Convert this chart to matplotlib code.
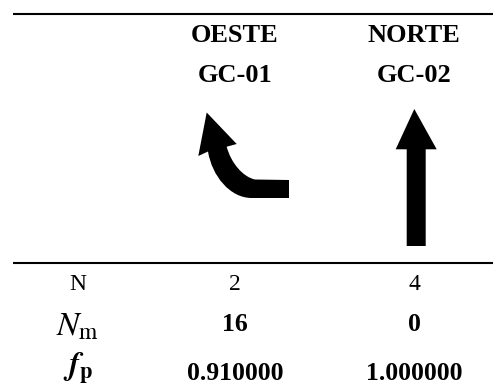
import matplotlib
matplotlib.use('Agg')
import matplotlib.pyplot as plt
from matplotlib.patches import Polygon, PathPatch
from matplotlib.path import Path

# table contents
directions = ['OESTE', 'NORTE']
groups = ['GC-01', 'GC-02']
row_labels = ['N', r'$N_{\mathrm{m}}$', r'$\mathbfit{f}_{\mathbf{p}}$']
n_values = ['2', '4']
nm_values = ['16', '0']
fp_values = ['0.910000', '1.000000']

plt.rcParams['font.family'] = ['Liberation Serif', 'DejaVu Serif']
plt.rcParams['mathtext.fontset'] = 'stix'

fig = plt.figure(figsize=(4.93, 3.88), dpi=100)
ax = fig.add_axes([0, 0, 1, 1])
ax.set_xlim(0, 493)
ax.set_ylim(388, 0)
ax.axis('off')

col_x = [235, 414]

# rules
ax.plot([13, 493], [14, 14], color='black', lw=1.5, solid_capstyle='butt')
ax.plot([13, 493], [263, 263], color='black', lw=1.5, solid_capstyle='butt')

# header
for x, d, g in zip(col_x, directions, groups):
    ax.text(x, 36, d, ha='center', va='center', fontsize=19, fontweight='bold')
    ax.text(x, 75.5, g, ha='center', va='center', fontsize=19, fontweight='bold')

# arrow signs
turn = Path(
    [(206.7, 112.5), (198.3, 156), (208, 151.5),
     (212, 176), (230, 198), (251.7, 198),
     (289, 198), (289, 180), (255, 179.5),
     (243, 177), (231, 163), (226.7, 146.7),
     (236.7, 144), (206.7, 112.5)],
    [Path.MOVETO, Path.LINETO, Path.LINETO,
     Path.CURVE4, Path.CURVE4, Path.CURVE4,
     Path.LINETO, Path.LINETO, Path.LINETO,
     Path.CURVE4, Path.CURVE4, Path.CURVE4,
     Path.LINETO, Path.CLOSEPOLY])
ax.add_patch(PathPatch(turn, fc='black', ec='none'))
ax.add_patch(Polygon([(414.3, 109), (436.7, 149.3), (425.7, 149.3), (425.7, 246),
                      (406.7, 246), (406.7, 149.3), (395.7, 149.3)],
                     closed=True, fc='black', ec='none'))

# rows
ax.text(78, 284.5, row_labels[0], ha='center', va='center', fontsize=17)
ax.text(78, 327, row_labels[1], ha='center', va='center', fontsize=24)
ax.text(78, 376, row_labels[2], ha='center', va='baseline', fontsize=23)

for x, a, b, c in zip(col_x, n_values, nm_values, fp_values):
    ax.text(x, 284.5, a, ha='center', va='center', fontsize=17)
    ax.text(x, 324.5, b, ha='center', va='center', fontsize=18.5, fontweight='bold')
    ax.text(x, 374, c, ha='center', va='center', fontsize=18.5, fontweight='bold')

fig.savefig('out.png', dpi=100)
